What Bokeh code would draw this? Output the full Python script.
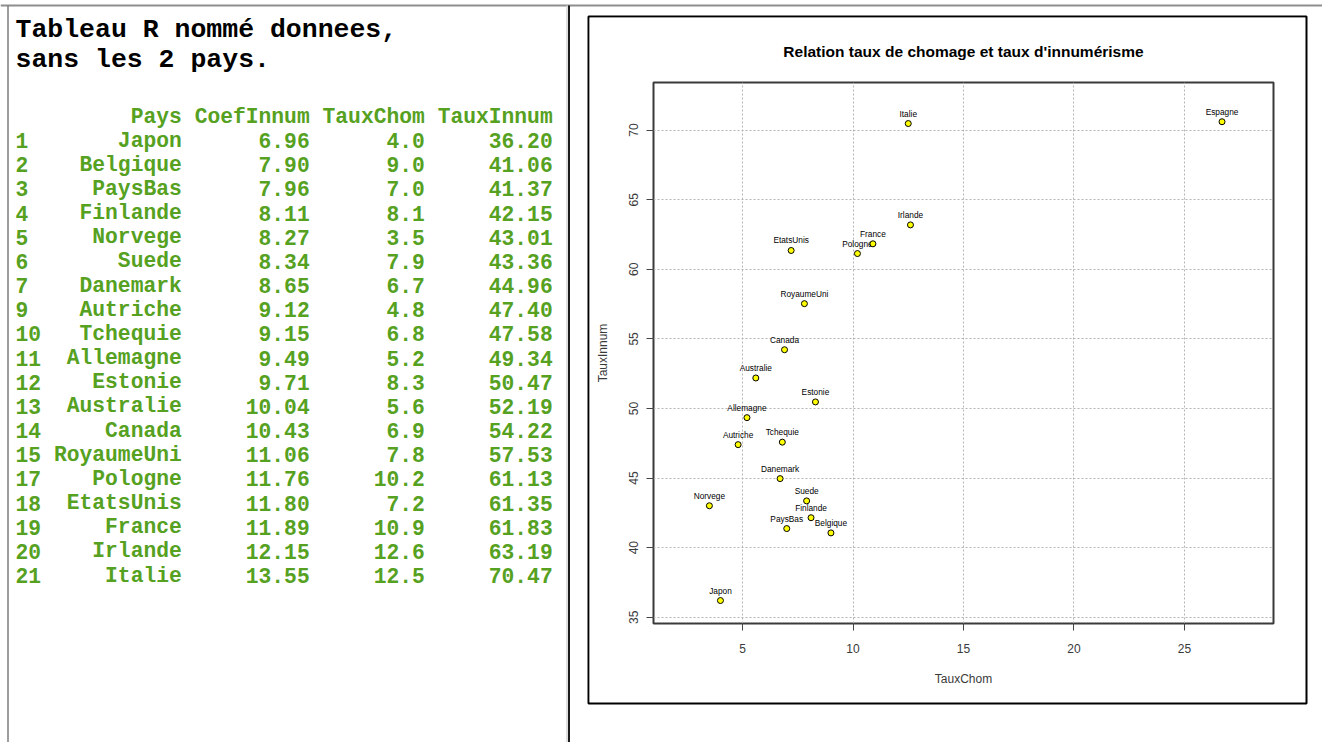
from bokeh.plotting import figure
from bokeh.models import Range1d, FixedTicker, ColumnDataSource
from bokeh.core.properties import value
from bokeh.embed import file_html
from bokeh.resources import INLINE

# --- data -------------------------------------------------------------
row_ids = ["1", "2", "3", "4", "5", "6", "7", "9", "10", "11", "12", "13",
           "14", "15", "17", "18", "19", "20", "21"]
pays = ["Japon", "Belgique", "PaysBas", "Finlande", "Norvege", "Suede",
        "Danemark", "Autriche", "Tchequie", "Allemagne", "Estonie",
        "Australie", "Canada", "RoyaumeUni", "Pologne", "EtatsUnis",
        "France", "Irlande", "Italie"]
coef_innum = [6.96, 7.90, 7.96, 8.11, 8.27, 8.34, 8.65, 9.12, 9.15, 9.49,
              9.71, 10.04, 10.43, 11.06, 11.76, 11.80, 11.89, 12.15, 13.55]
taux_chom = [4.0, 9.0, 7.0, 8.1, 3.5, 7.9, 6.7, 4.8, 6.8, 5.2, 8.3, 5.6,
             6.9, 7.8, 10.2, 7.2, 10.9, 12.6, 12.5]
taux_innum = [36.20, 41.06, 41.37, 42.15, 43.01, 43.36, 44.96, 47.40, 47.58,
              49.34, 50.47, 52.19, 54.22, 57.53, 61.13, 61.35, 61.83, 63.19,
              70.47]
# country plotted in the scatter but left out of the printed table
extra_pays = ["Espagne"]
extra_chom = [26.7]
extra_innum = [70.6]

headers = ["Pays", "CoefInnum", "TauxChom", "TauxInnum"]
x_ticks = [5, 10, 15, 20, 25]
y_ticks = [35, 40, 45, 50, 55, 60, 65, 70]

GREEN = "#56a11f"
MONO = value("Liberation Mono")
SANS = value("Liberation Sans")

W, H = 1322, 742

# --- page canvas: printed R table, panel rules, graphics-device box ---
bg = figure(width=W, height=H, x_range=Range1d(0, W), y_range=Range1d(H, 0),
            output_backend="svg", toolbar_location=None, min_border=0,
            x_axis_location=None, y_axis_location=None)
bg.grid.visible = False
bg.outline_line_color = None
bg.background_fill_color = "white"
bg.border_fill_color = "white"

bg.segment(x0=[0], y0=[5], x1=[W], y1=[5], line_color="#8e8e8e", line_width=2)
bg.segment(x0=[7.5], y0=[5], x1=[7.5], y1=[H], line_color="#7c7c7c", line_width=1.5)
bg.segment(x0=[566.5], y0=[5], x1=[566.5], y1=[H], line_color="#d4d4d4", line_width=1.5)
bg.segment(x0=[568.5], y0=[5], x1=[568.5], y1=[H], line_color="#1c1c1c", line_width=2)
bg.quad(left=[588], right=[1306], top=[16], bottom=[703], fill_color=None,
        line_color="black", line_width=2)

bg.text(x=[15, 15], y=[29, 59],
        text=["Tableau R nommé donnees,", "sans les 2 pays."],
        text_font=MONO, text_font_style="bold", text_font_size="26.5px",
        text_align="left", text_baseline="middle", text_color="black")

# monospace grid for the table
x0, cw = 15.0, 12.79
col_end_chars = [13, 23, 32, 42]
col_right = [x0 + n * cw for n in col_end_chars]
y_head, dy = 116.0, 24.16
y_rows = [y_head + dy * (i + 1) for i in range(len(pays))]

tfmt = dict(text_font=MONO, text_font_style="bold", text_font_size="21.3px",
            text_baseline="middle", text_color=GREEN)

bg.text(x=col_right, y=[y_head] * 4, text=headers, text_align="right", **tfmt)
bg.text(x=[x0] * len(row_ids), y=y_rows, text=row_ids, text_align="left", **tfmt)
columns = [
    pays,
    [f"{v:.2f}" for v in coef_innum],
    [f"{v:.1f}" for v in taux_chom],
    [f"{v:.2f}" for v in taux_innum],
]
for xr, col in zip(col_right, columns):
    bg.text(x=[xr] * len(col), y=y_rows, text=col, text_align="right", **tfmt)

# --- scatter plot, laid over the device box ---------------------------
PX, PY, PW, PH = 589, 17, 716, 685
p = figure(width=PW, height=PH, x_range=Range1d(0.97, 29.03),
           y_range=Range1d(34.55, 73.42), output_backend="svg",
           toolbar_location=None, min_border_left=64, min_border_right=32,
           min_border_top=65, min_border_bottom=79)
p.styles = {"position": "absolute", "left": f"{PX}px", "top": f"{PY}px"}
p.background_fill_color = "white"
p.border_fill_color = "white"
p.outline_line_color = "#3a3a3a"
p.outline_line_width = 2

p.title.text = "Relation taux de chomage et taux d'innumérisme"
p.title.align = "center"
p.title.vertical_align = "top"
p.title.text_font = "Liberation Sans"
p.title.text_font_size = "15.5px"
p.title.text_font_style = "bold"
p.title.text_color = "black"
p.title.standoff = 42

for ax in (p.xaxis, p.yaxis):
    ax.axis_line_color = None
    ax.major_tick_in = 0
    ax.major_tick_out = 7
    ax.major_tick_line_color = "#444444"
    ax.minor_tick_line_color = None
    ax.major_label_text_font = "Liberation Sans"
    ax.major_label_text_font_size = "12px"
    ax.major_label_text_color = "#3a3a3a"
    ax.axis_label_text_font = "Liberation Sans"
    ax.axis_label_text_font_size = "12px"
    ax.axis_label_text_font_style = "normal"
    ax.axis_label_text_color = "#3a3a3a"

p.xaxis.ticker = FixedTicker(ticks=x_ticks)
p.yaxis.ticker = FixedTicker(ticks=y_ticks)
p.yaxis.major_label_orientation = "vertical"
p.xaxis.axis_label = "TauxChom"
p.yaxis.axis_label = "TauxInnum"
p.xaxis.major_label_standoff = 13
p.yaxis.major_label_standoff = 8
p.xaxis.axis_label_standoff = 16
p.yaxis.axis_label_standoff = 17

for g in (p.xgrid, p.ygrid):
    g.grid_line_color = "#b4b4b4"
    g.grid_line_dash = "2 2"
    g.grid_line_width = 1
p.xgrid.ticker = FixedTicker(ticks=x_ticks)
p.ygrid.ticker = FixedTicker(ticks=y_ticks)

src = ColumnDataSource(dict(x=taux_chom + extra_chom,
                            y=taux_innum + extra_innum,
                            name=pays + extra_pays))
p.text(x="x", y="y", text="name", source=src, text_font=SANS,
       text_font_size="8.3px", text_align="center", text_baseline="middle",
       text_color="black", y_offset=-10)
p.scatter(x="x", y="y", source=src, size=6, fill_color="#ffff00",
          line_color="black", line_width=1)

open("out.html", "w").write(file_html([bg, p], INLINE))
